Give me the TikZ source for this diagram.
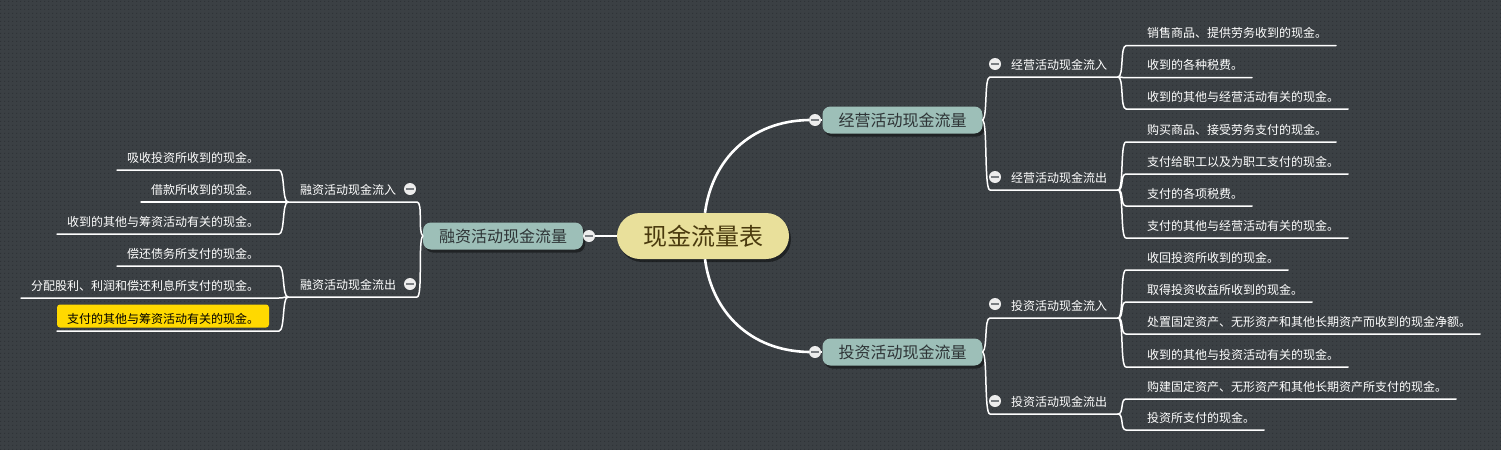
\documentclass[tikz,border=0pt]{standalone}
\usepackage{fontspec}
\setmainfont{Noto Sans CJK SC}
\usetikzlibrary{calc,shadows,patterns.meta}
\definecolor{bg}{HTML}{3B4044}
\definecolor{bgdot}{HTML}{2F3337}
\definecolor{cyellow}{HTML}{E9E09B}
\definecolor{cbrown}{HTML}{4A3A0E}
\definecolor{cteal}{HTML}{9DBFB8}
\definecolor{ctext}{HTML}{2E3436}
\definecolor{togfill}{HTML}{EDEDED}
\definecolor{togbar}{HTML}{7A7E82}
\definecolor{hl}{HTML}{FFD900}
\tikzdeclarepattern{name=bgdots, type=uncolored, bounding box={(0pt,0pt) and (4pt,4pt)}, tile size={(4pt,4pt)}, code={\fill (1.4pt,1.4pt) rectangle (2.6pt,2.6pt);}}
\begin{document}
\begin{tikzpicture}[x=1pt,y=-1pt,
  rootnode/.style={fill=cyellow, text=cbrown, rounded corners=23pt, minimum width=172pt, minimum height=46pt, inner sep=0pt, font=\fontsize{24}{28}\selectfont, drop shadow={shadow xshift=2pt, shadow yshift=-3pt, fill=black, opacity=0.45}},
  mainbr/.style={fill=cteal, text=ctext, rounded corners=8pt, minimum width=160pt, minimum height=27pt, inner sep=0pt, font=\fontsize{16}{19}\selectfont, drop shadow={shadow xshift=2pt, shadow yshift=-3pt, fill=black, opacity=0.45}},
  sublbl/.style={text=white, font=\fontsize{12}{14}\selectfont, inner sep=0pt, outer sep=0pt},
  leaf/.style={text=white, font=\fontsize{12}{14}\selectfont, inner sep=0pt, outer sep=0pt},
  tog/.style={circle, fill=togfill, minimum size=12pt, inner sep=0pt, outer sep=0pt, path picture={\draw[togbar, line width=1.8pt] ([xshift=-3.6pt]path picture bounding box.center) -- ([xshift=3.6pt]path picture bounding box.center);}},
  conn/.style={draw=white, line width=2.6pt},
  subconn/.style={draw=white, line width=1.5pt, line cap=round},
]
\useasboundingbox (0,0) rectangle (1501,450);
\fill[bg] (0,0) rectangle (1501,450);
\fill[pattern={bgdots}, pattern color=bgdot] (0,0) rectangle (1501,450);

% ---- main nodes
\node[rootnode] (root) at (703,236) {现金流量表};
\node[mainbr] (A) at (902.5,120) {经营活动现金流量};
\node[mainbr] (B) at (902.5,352) {投资活动现金流量};
\node[mainbr] (C) at (503,236) {融资活动现金流量};

% ---- root connectors
\draw[conn] ([xshift=2pt]root.north) .. controls (712,160) and (750,121) .. (809,120) coordinate (eA);
\draw[conn] ([xshift=2pt]root.south) .. controls (712,312) and (750,351) .. (809,352) coordinate (eB);
\draw[conn] (root.west) -- (595,236) coordinate (eC);
\draw[conn] (821,120) coordinate (xA) -- (A.west);
\draw[conn] (821,352) coordinate (xB) -- (B.west);
\draw[conn] (583,236) coordinate (xC) -- (C.east);
\node[tog] (tA) at (815,120) {};
\node[tog] (tB) at (815,352) {};
\node[tog] (tC) at (589,236) {};

% ---- sub labels (right)
\node[sublbl, anchor=base west] (A1) at (1011,69) {经营活动现金流入};
\node[sublbl, anchor=base west] (A2) at (1011,182) {经营活动现金流出};
\node[sublbl, anchor=base west] (B1) at (1011,310) {投资活动现金流入};
\node[sublbl, anchor=base west] (B2) at (1011,406) {投资活动现金流出};
% ---- sub labels (left)
\node[sublbl, anchor=base east] (C1) at (396,194) {融资活动现金流入};
\node[sublbl, anchor=base east] (C2) at (396,289) {融资活动现金流出};

\coordinate (sA1) at (990,77);  \coordinate (fA1) at (1118,77);
\coordinate (sA2) at (990,190); \coordinate (fA2) at (1118,190);
\coordinate (sB1) at (990,318); \coordinate (fB1) at (1118,318);
\coordinate (sB2) at (990,414); \coordinate (fB2) at (1118,414);
\coordinate (sC1) at (417,202); \coordinate (fC1) at (288,202);
\coordinate (sC2) at (417,297); \coordinate (fC2) at (288,297);

\draw[subconn] (A.east) .. controls +(5,-4) and +(-6,0) .. (sA1) -- (fA1);
\draw[subconn] (A.east) .. controls +(5,4) and +(-6,0) .. (sA2) -- (fA2);
\draw[subconn] (B.east) .. controls +(5,-4) and +(-6,0) .. (sB1) -- (fB1);
\draw[subconn] (B.east) .. controls +(5,4) and +(-6,0) .. (sB2) -- (fB2);
\draw[subconn] (C.west) .. controls +(-5,-4) and +(6,0) .. (sC1) -- (fC1);
\draw[subconn] (C.west) .. controls +(-5,4) and +(6,0) .. (sC2) -- (fC2);

\node[tog] (tA1) at (995,64) {};
\node[tog] (tA2) at (995,177) {};
\node[tog] (tB1) at (995,304) {};
\node[tog] (tB2) at (995,401) {};
\node[tog] (tC1) at (410,189) {};
\node[tog] (tC2) at (410,284) {};

% ---- right leaves
\node[leaf, anchor=base west] (A11) at (1147,37.7) {销售商品、提供劳务收到的现金。};
\node[leaf, anchor=base west] (A12) at (1147,69.7) {收到的各种税费。};
\node[leaf, anchor=base west] (A13) at (1147,101) {收到的其他与经营活动有关的现金。};
\node[leaf, anchor=base west] (A21) at (1147,134) {购买商品、接受劳务支付的现金。};
\node[leaf, anchor=base west] (A22) at (1147,166) {支付给职工以及为职工支付的现金。};
\node[leaf, anchor=base west] (A23) at (1147,198) {支付的各项税费。};
\node[leaf, anchor=base west] (A24) at (1147,230) {支付的其他与经营活动有关的现金。};
\node[leaf, anchor=base west] (B11) at (1147,262) {收回投资所收到的现金。};
\node[leaf, anchor=base west] (B12) at (1147,294) {取得投资收益所收到的现金。};
\node[leaf, anchor=base west] (B13) at (1147,326) {处置固定资产、无形资产和其他长期资产而收到的现金净额。};
\node[leaf, anchor=base west] (B14) at (1147,359) {收到的其他与投资活动有关的现金。};
\node[leaf, anchor=base west] (B21) at (1147,391) {购建固定资产、无形资产和其他长期资产所支付的现金。};
\node[leaf, anchor=base west] (B22) at (1147,422) {投资所支付的现金。};

\foreach \p/\l in {A1/A11,A1/A12,A1/A13,A2/A21,A2/A22,A2/A23,A2/A24,B1/B11,B1/B12,B1/B13,B1/B14,B2/B21,B2/B22}{
  \draw[subconn] (f\p) .. controls +(6,0) and +(-6,0) .. ($(\l.base west)+(-21,8)$) -- ($(\l.base east)+(9,8)$);
}

% ---- left leaves
\node[leaf, anchor=base east] (C11) at (259,162) {吸收投资所收到的现金。};
\node[leaf, anchor=base east] (C12) at (259,194) {借款所收到的现金。};
\node[leaf, anchor=base east] (C13) at (259,226) {收到的其他与筹资活动有关的现金。};
\node[leaf, anchor=base east] (C21) at (259,258) {偿还债务所支付的现金。};
\node[leaf, anchor=base east] (C22) at (259,290) {分配股利、利润和偿还利息所支付的现金。};
\node[leaf, anchor=base east, text=black, fill=hl, rounded corners=3pt, inner xsep=10pt, inner ysep=4pt, text height=14.5pt, text depth=0.5pt] (C23) at (269,323) {支付的其他与筹资活动有关的现金。};

\foreach \p/\l in {C1/C11,C1/C12,C1/C13,C2/C21,C2/C22}{
  \draw[subconn] (f\p) .. controls +(-6,0) and +(6,0) .. ($(\l.base east)+(20,8)$) -- ($(\l.base west)+(-10,8)$);
}
\draw[subconn] (fC2) .. controls +(-6,0) and +(6,0) .. ($(C23.base east)+(10,8)$) -- ($(C23.base west)+(0,8)$);
\end{tikzpicture}
\end{document}
